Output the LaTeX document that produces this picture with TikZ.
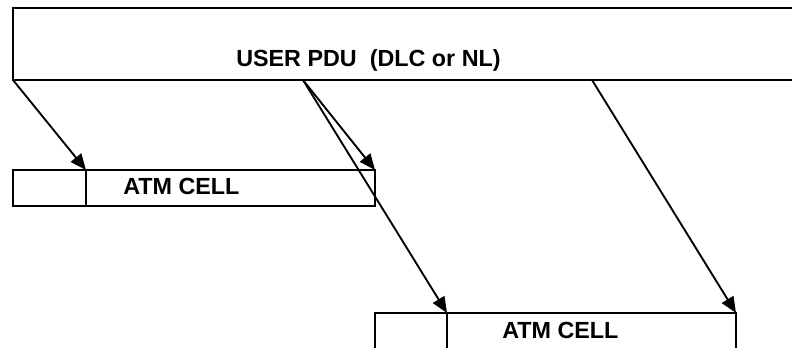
\documentclass[tikz,border=0pt]{standalone}
\usepackage{fontspec}
\setmainfont{Liberation Sans}
\usetikzlibrary{arrows.meta}
\begin{document}
\begin{tikzpicture}[x=0.75pt,y=-0.75pt,
  box/.style={line width=1.4pt,draw=black},
  conn/.style={line width=1.4pt,-{Triangle[length=12pt,width=10pt]}},
  lbl/.style={font=\bfseries\fontsize{17.5}{20}\selectfont,inner sep=0pt,anchor=west}]
\useasboundingbox (0,0) rectangle (792,348);
\clip (0,0) rectangle (792,348);
% coordinates
\coordinate (pduTL) at (13,8);
\coordinate (pduBL) at (13,80);
\coordinate (pduM) at (303,80);
\coordinate (pduR) at (592,80);
\coordinate (c1L) at (13,170);
\coordinate (c1D) at (86,170);
\coordinate (c1R) at (375,170);
\coordinate (c2L) at (375,313);
\coordinate (c2D) at (447,313);
\coordinate (c2R) at (736,313);
% user PDU
\draw[box] (800,8) -- (pduTL) -- (pduBL) -- (800,80);
\node[lbl] (pdu) at (236,60) {USER PDU\ \ (DLC or NL)};
% cell 1
\draw[box] (c1L) rectangle (375,206);
\draw[box] (c1D) -- (86,206);
\node[lbl] (cell1) at (123,186) {ATM CELL};
% cell 2
\draw[box] (375,360) -- (c2L) -- (c2R) -- (736,360);
\draw[box] (c2D) -- (447,360);
\node[lbl] (cell2) at (502,330) {ATM CELL};
% connectors
\draw[conn] (pduBL) -- (c1D);
\draw[conn] (pduM) -- (c1R);
\draw[conn] (pduM) -- (c2D);
\draw[conn] (pduR) -- (c2R);
\end{tikzpicture}
\end{document}
